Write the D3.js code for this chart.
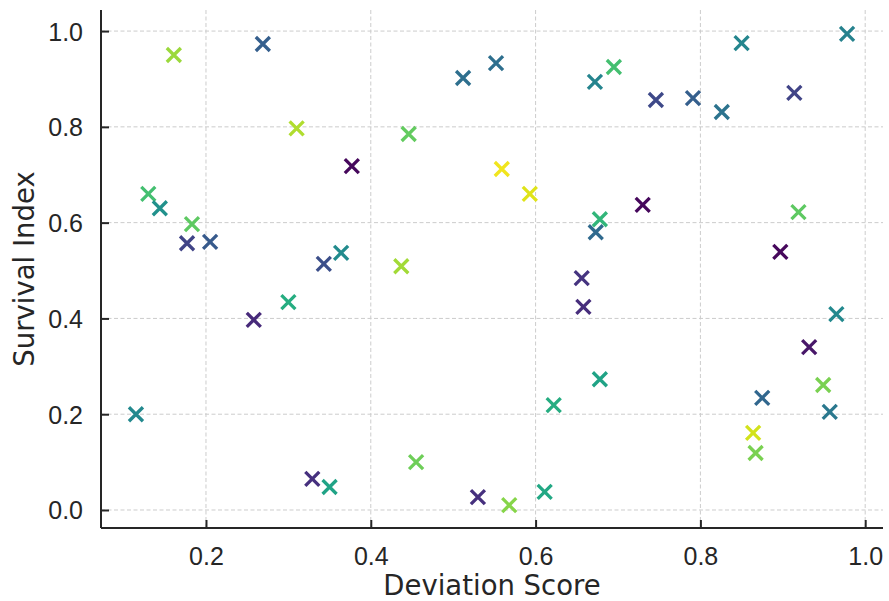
<!DOCTYPE html>
<html>
<head>
<meta charset="utf-8">
<script src="https://cdn.jsdelivr.net/npm/d3@7"></script>
<style>
  html, body { margin: 0; padding: 0; background: #fff; }
  svg { display: block; font-family: "DejaVu Sans", sans-serif; }
  .grid line { stroke: #cccccc; stroke-width: 1; stroke-dasharray: 4 2.5; }
  .tick-label { fill: #262626; font-size: 25px; }
  .axis-title { fill: #262626; font-size: 27.5px; }
</style>
</head>
<body>
<div id="chart"></div>
<script>
// scatter: deviation score vs survival index, colour = viridis value

const deviation = [
  0.115, 0.130, 0.144, 0.161, 0.177, 0.183, 0.205, 0.258, 0.269, 0.300,
  0.310, 0.329, 0.343, 0.350, 0.364, 0.377, 0.437, 0.446, 0.455, 0.512,
  0.530, 0.552, 0.559, 0.568, 0.593, 0.611, 0.622, 0.656, 0.658, 0.672,
  0.673, 0.678, 0.678, 0.695, 0.730, 0.746, 0.791, 0.826, 0.850, 0.864,
  0.867, 0.875, 0.897, 0.914, 0.919, 0.932, 0.949, 0.957, 0.965, 0.978
];
const survival = [
  0.200, 0.660, 0.630, 0.950, 0.557, 0.597, 0.560, 0.397, 0.973, 0.434,
  0.797, 0.065, 0.514, 0.048, 0.537, 0.718, 0.509, 0.785, 0.100, 0.902,
  0.027, 0.933, 0.712, 0.010, 0.660, 0.038, 0.219, 0.484, 0.424, 0.894,
  0.580, 0.607, 0.273, 0.925, 0.637, 0.856, 0.860, 0.831, 0.975, 0.161,
  0.119, 0.234, 0.539, 0.871, 0.622, 0.340, 0.261, 0.205, 0.409, 0.994
];
const colorValue = [
  0.47, 0.70, 0.50, 0.85, 0.20, 0.75, 0.28, 0.12, 0.30, 0.62,
  0.88, 0.14, 0.24, 0.58, 0.48, 0.02, 0.86, 0.76, 0.78, 0.36,
  0.14, 0.36, 0.98, 0.82, 0.95, 0.60, 0.62, 0.15, 0.13, 0.45,
  0.34, 0.66, 0.58, 0.70, 0.02, 0.22, 0.30, 0.38, 0.46, 0.93,
  0.80, 0.33, 0.02, 0.20, 0.75, 0.06, 0.80, 0.40, 0.47, 0.44
];

const xTicks = [0.2, 0.4, 0.6, 0.8, 1.0];
const yTicks = [0.0, 0.2, 0.4, 0.6, 0.8, 1.0];
const xLabel = "Deviation Score";
const yLabel = "Survival Index";
const titleText = "DIVERGENCE AND SURVIVAL ACROSS THE SAMPLED POPULATION";

const W = 889, H = 601;
const M = { top: 10, right: 6, bottom: 73, left: 101 };
const innerW = W - M.left - M.right;
const innerH = H - M.top - M.bottom;

const points = deviation.map((d, i) => ({ x: d, y: survival[i], c: colorValue[i] }));

const svg = d3.select("#chart").append("svg")
  .attr("width", W).attr("height", H)
  .attr("viewBox", `0 0 ${W} ${H}`);

// title sits above the canvas, only the foot of its letters shows
svg.append("text")
  .attr("x", 20).attr("y", 0.2)
  .attr("textLength", 832).attr("lengthAdjust", "spacingAndGlyphs")
  .attr("font-size", 27)
  .attr("font-weight", "bold")
  .attr("fill", "#c8eee2")
  .text(titleText);

const g = svg.append("g").attr("transform", `translate(${M.left},${M.top})`);

const x = d3.scaleLinear().domain([0.0726, 1.0216]).range([0, innerW]);
const y = d3.scaleLinear().domain([-0.0376, 1.044]).range([innerH, 0]);

// dashed grid
const grid = g.append("g").attr("class", "grid");
grid.selectAll("line.vx").data(xTicks).join("line")
  .attr("class", "vx")
  .attr("x1", (d) => x(d)).attr("x2", (d) => x(d))
  .attr("y1", 0).attr("y2", innerH);
grid.selectAll("line.hy").data(yTicks).join("line")
  .attr("class", "hy")
  .attr("x1", 0).attr("x2", innerW)
  .attr("y1", (d) => y(d)).attr("y2", (d) => y(d));

// axes: inward ticks, left and bottom spines only
const xAxis = d3.axisBottom(x).tickValues(xTicks).tickFormat(d3.format(".1f"))
  .tickSizeInner(-8).tickSizeOuter(0).tickPadding(19);
const yAxis = d3.axisLeft(y).tickValues(yTicks).tickFormat(d3.format(".1f"))
  .tickSizeInner(-8).tickSizeOuter(0).tickPadding(18);

const gx = g.append("g").attr("transform", `translate(0,${innerH})`).call(xAxis);
const gy = g.append("g").call(yAxis);

[gx, gy].forEach((ax) => {
  ax.select(".domain").attr("stroke", "#262626").attr("stroke-width", 2);
  ax.selectAll(".tick line").attr("stroke", "#262626").attr("stroke-width", 2);
  ax.selectAll(".tick text").attr("class", "tick-label")
    .attr("font-family", null).attr("font-size", null).attr("fill", null);
});
gx.selectAll(".tick text").attr("dy", "0.71em");
gy.selectAll(".tick text").attr("dy", "0.36em");
gy.select(".domain").attr("d", `M0,0V${innerH}`);
gx.select(".domain").attr("d", `M0,0H${innerW}`);

// markers
g.append("g").selectAll("path.pt").data(points).join("path")
  .attr("class", "pt")
  .attr("transform", (d) => `translate(${x(d.x)},${y(d.y)})`)
  .attr("d", "M-7,-7L7,7M-7,7L7,-7")
  .attr("fill", "none")
  .attr("stroke", (d) => d3.interpolateViridis(d.c))
  .attr("stroke-width", 3.3);

// axis titles
svg.append("text").attr("class", "axis-title")
  .attr("x", M.left + innerW / 2).attr("y", 595)
  .attr("text-anchor", "middle")
  .text(xLabel);

svg.append("text").attr("class", "axis-title")
  .attr("transform", `translate(34,${M.top + innerH / 2}) rotate(-90)`)
  .attr("text-anchor", "middle")
  .text(yLabel);
</script>
</body>
</html>
